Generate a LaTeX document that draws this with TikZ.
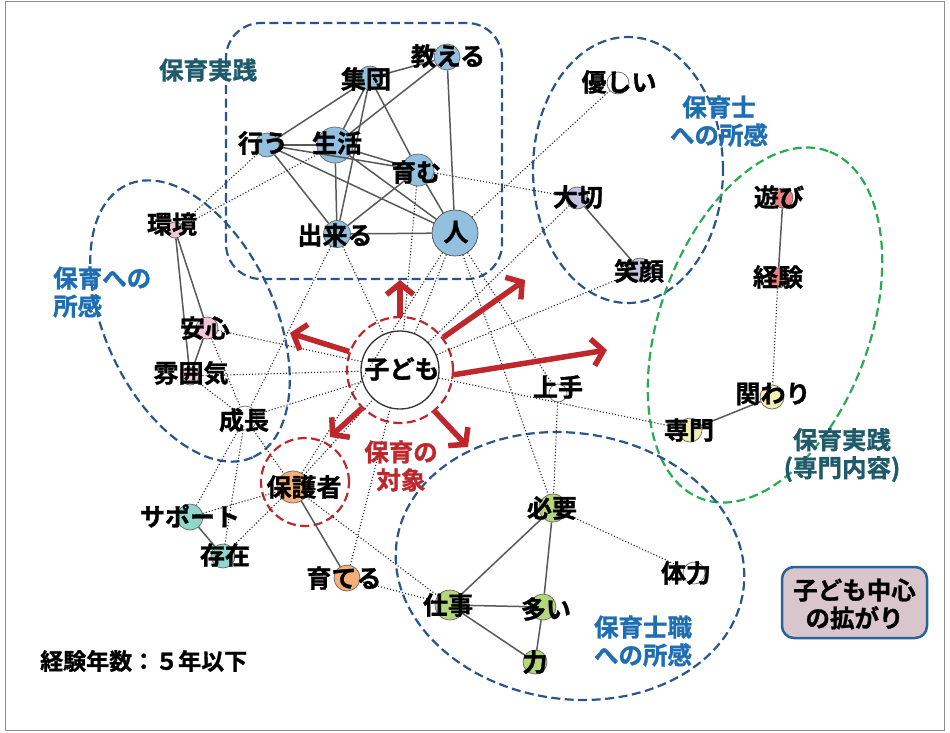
\documentclass[tikz,border=0pt]{standalone}
\usepackage{fontspec}
\newfontfamily\jpb{Noto Sans CJK JP Bold}[FakeBold=1.2]
\usetikzlibrary{arrows.meta}
\definecolor{navy}{RGB}{40,85,140}
\definecolor{grn}{RGB}{40,170,80}
\definecolor{dred}{RGB}{190,40,45}
\definecolor{teal2}{RGB}{30,90,105}
\definecolor{lblue}{RGB}{30,110,180}
\definecolor{cblue}{RGB}{146,192,222}
\definecolor{cpink}{RGB}{244,196,216}
\definecolor{corange}{RGB}{245,176,122}
\definecolor{cteal}{RGB}{143,214,204}
\definecolor{cgreen}{RGB}{181,213,122}
\definecolor{clav}{RGB}{195,195,227}
\definecolor{csalmon}{RGB}{239,127,127}
\definecolor{cyellow}{RGB}{243,239,179}
\definecolor{boxfill}{RGB}{217,198,204}
\definecolor{boxline}{RGB}{40,100,155}
\tikzset{
  cn/.style={circle, draw=black!60, line width=0.7pt, inner sep=0pt, minimum size=#1},
  lab/.style={font=\jpb\fontsize{25}{27}\selectfont, inner sep=0pt, text=black},
  glab/.style={font=\jpb\fontsize{24.5}{28}\selectfont, inner sep=0pt, align=center},
  sol/.style={draw=black!65, line width=1.5pt},
  dotl/.style={draw=black!85, line width=1.1pt, dash pattern=on 1.1pt off 2pt},
  grp/.style={draw=navy, line width=2.2pt, dash pattern=on 9pt off 4.5pt},
  ggrp/.style={draw=grn, line width=2.2pt, dash pattern=on 9pt off 4.5pt},
  rgrp/.style={draw=dred, line width=2.2pt, dash pattern=on 9pt off 4.5pt},
  rarr/.style={draw=dred, line width=5.5pt, -{Straight Barb[length=11pt,width=27pt]}},
}
\begin{document}
\begin{tikzpicture}[x=1pt,y=-1pt]
\useasboundingbox (0,0) rectangle (950,732);
\fill[white] (0,0) rectangle (950,732);
\draw[black!45, line width=0.8pt] (5,1) rectangle (944,730);

% group outlines
\draw[grp, rounded corners=35pt] (226,23) rectangle (502,279);
\draw[grp, rotate around={-65:(190,321)}] (190,321) ellipse [x radius=150pt, y radius=85pt];
\draw[grp] (628,170) ellipse [x radius=95pt, y radius=133pt];
\draw[ggrp, rotate around={70:(765,325)}] (765,325) ellipse [x radius=185pt, y radius=105pt];
\draw[grp, rotate around={-8:(570,566)}] (570,566) ellipse [x radius=175pt, y radius=133pt];

% circles
\node[cn=26pt, fill=cblue] (osh) at (447,57) {};
\node[cn=24pt, fill=cblue] (jiu) at (370,78) {};
\node[cn=24pt, fill=cblue] (oko) at (267,145) {};
\node[cn=36pt, fill=cblue] (sei) at (335,145) {};
\node[cn=32pt, fill=cblue] (hag) at (418,170) {};
\node[cn=46pt, fill=cblue, draw=black!70] (hit) at (455,233) {};
\node[cn=27pt, fill=cblue] (dek) at (337,234) {};
\node[cn=16pt, fill=cpink] (kan) at (175,230) {};
\node[cn=22pt, fill=cpink] (ans) at (207,328) {};
\node[cn=18pt, fill=cpink] (fun) at (190,376) {};
\node[cn=24pt, fill=white] (seic) at (245,418) {};
\node[cn=32pt, fill=corange] (hog) at (293,487) {};
\node[cn=26pt, fill=cteal] (sap) at (190,517) {};
\node[cn=24pt, fill=cteal] (son) at (223,556) {};
\node[cn=26pt, fill=corange] (sod) at (347,578) {};
\node[cn=78pt, fill=white, draw=black!80, line width=1.3pt] (kod) at (400,370) {};
\node[cn=106pt, rgrp, fill=none] (kodr) at (400,370) {};
\node[cn=88pt, rgrp, fill=none] (hogr) at (305,482) {};
\node[cn=18pt, fill=white] (jou) at (558,393) {};
\node[cn=28pt, fill=cgreen] (hits) at (553,508) {};
\node[cn=22pt, fill=white] (tair) at (694,573) {};
\node[cn=30pt, fill=cgreen] (shi) at (450,605) {};
\node[cn=26pt, fill=cgreen] (oi) at (543,607) {};
\node[cn=24pt, fill=cgreen] (chi) at (535,662) {};
\node[cn=22pt, fill=white] (yas) at (618,83) {};
\node[cn=22pt, fill=clav] (tai) at (577,198) {};
\node[cn=24pt, fill=clav] (ega) at (640,270) {};
\node[cn=20pt, fill=csalmon] (aso) at (783,198) {};
\node[cn=20pt, fill=csalmon] (kei) at (778,278) {};
\node[cn=24pt, fill=cyellow] (kak) at (772,397) {};
\node[cn=24pt, fill=cyellow] (sen) at (690,430) {};

% solid edges
\foreach \a/\b in {jiu/osh, jiu/oko, jiu/sei, jiu/dek, jiu/hag, osh/sei, osh/hit,
  oko/sei, oko/hag, oko/hit, oko/dek, sei/hag, sei/hit, sei/dek, hag/hit, hag/dek, dek/hit,
  kan/ans, kan/fun, ans/fun, hog/sod, sap/son, tai/ega, aso/kei, kak/sen,
  hits/shi, hits/oi, shi/oi, shi/chi, oi/chi}
  \draw[sol] (\a) -- (\b);

% dotted edges
\foreach \a/\b in {kan/oko, kan/sei, ans/kod, fun/kod, seic/kod, ans/seic, fun/seic,
  dek/seic, seic/hog, seic/sap, seic/son, sap/hog, son/hog, hog/kod, hog/hit,
  hog/shi, sod/shi, sod/kod, dek/kod, hag/kod, hit/kod, hit/hits, hit/jou, jou/hits,
  hits/tair, hit/yas, hag/tai, kod/tai, kod/ega, kod/sen, kei/kak}
  \draw[dotl] (\a) -- (\b);

% red arrows
\coordinate (t1) at (400,280);
\coordinate (t2) at (525,280);
\coordinate (t3) at (607,350);
\coordinate (t4) at (290,333);
\coordinate (t5) at (330,437);
\coordinate (t6) at (468,447);
\draw[rarr] (kodr.90) -- (t1);
\draw[rarr] (kodr.37) -- (t2);
\draw[rarr] (kodr.-5) -- (t3);
\draw[rarr] (kodr.160) -- (t4);
\draw[rarr] (kodr.-135) -- (t5);
\draw[rarr] (kodr.-50) -- (t6);

% node labels
\node[lab] (l-osh) at (448,56) {教える};
\node[lab] (l-jiu) at (366,79) {集団};
\node[lab] (l-oko) at (263,143) {行う};
\node[lab] (l-sei) at (337,143) {生活};
\node[lab] (l-hag) at (416,172) {育む};
\node[lab] (l-hit) at (456,232) {人};
\node[lab] (l-dek) at (335,235) {出来る};
\node[lab] (l-kan) at (172,224) {環境};
\node[lab] (l-ans) at (205,328) {安心};
\node[lab] (l-fun) at (191,373) {雰囲気};
\node[lab] (l-seic) at (244,420) {成長};
\node[lab] (l-hog) at (304,487) {保護者};
\node[lab] (l-sap) at (190,516) {サポート};
\node[lab] (l-son) at (225,555) {存在};
\node[lab] (l-sod) at (344,578) {育てる};
\node[lab] (l-kod) at (402,369) {子ども};
\node[lab] (l-jou) at (558,387) {上手};
\node[lab] (l-hits) at (552,508) {必要};
\node[lab] (l-tair) at (686,573) {体力};
\node[lab] (l-shi) at (448,605) {仕事};
\node[lab] (l-oi) at (546,609) {多い};
\node[lab] (l-chi) at (535,662) {力};
\node[lab] (l-yas) at (619,82) {優しい};
\node[lab] (l-tai) at (578,197) {大切};
\node[lab] (l-ega) at (639,271) {笑顔};
\node[lab] (l-aso) at (779,197) {遊び};
\node[lab] (l-kei) at (778,277) {経験};
\node[lab] (l-kak) at (773,394) {関わり};
\node[lab] (l-sen) at (689,430) {専門};

% group labels
\node[glab, text=teal2] (g1) at (208,70) {保育実践};
\node[glab, text=lblue, align=left, anchor=west] (g2) at (53,292) {保育への\\所感};
\node[glab, text=lblue] (g3) at (719,121) {保育士\\への所感};
\node[glab, text=teal2] (g4) at (842,455) {保育実践\\(専門内容)};
\node[glab, text=lblue] (g5) at (643,641) {保育士職\\への所感};
\node[glab, text=dred] (g6) at (401,466) {保育の\\対象};
\node[glab, text=black, anchor=west, font=\jpb\fontsize{23}{27}\selectfont] (g7) at (40,661) {経験年数：５年以下};

% legend box
\node[draw=boxline, line width=2.5pt, fill=boxfill, rounded corners=12pt,
  minimum width=145pt, minimum height=71pt, inner sep=0pt] (box) at (854.5,602.5) {};
\node[glab, text=black] (boxt) at (854.5,604) {子ども中心\\の拡がり};
\end{tikzpicture}
\end{document}
